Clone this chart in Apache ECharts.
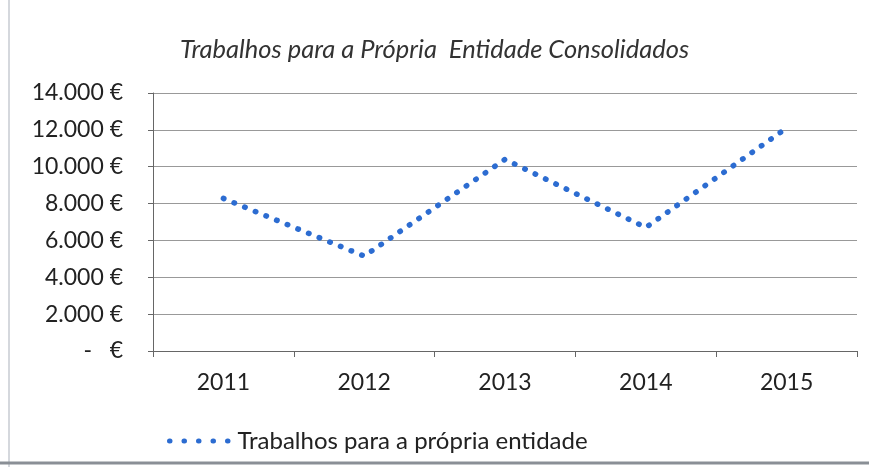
<!DOCTYPE html>
<html><head><meta charset="utf-8">
<script src="https://cdn.jsdelivr.net/npm/echarts@6/dist/echarts.min.js"></script>
<style>html,body{margin:0;padding:0;background:#fff}#c{width:869px;height:467px}</style>
</head><body><div id="c"></div>
<script>
const titleText = 'Trabalhos para a Própria  Entidade Consolidados';
const seriesName = 'Trabalhos para a própria entidade';
const years = ['2011', '2012', '2013', '2014', '2015'];
const values = [8280, 5150, 10400, 6700, 12100];

const chart = echarts.init(document.getElementById('c'));
const font = "Lato, 'Open Sans', sans-serif";
chart.setOption({
  backgroundColor: '#fff',
  animation: false,
  title: {
    text: titleText, left: 'center', top: 32,
    textStyle: { fontFamily: font, fontStyle: 'italic', fontWeight: 'normal', fontSize: 25.5, color: '#333' }
  },
  legend: {
    data: [{ name: seriesName }],
    left: 162, top: 424, itemWidth: 60, itemHeight: 14, itemGap: 6,
    itemStyle: { opacity: 0 },
    lineStyle: { width: 5, type: [0.5, 14], cap: 'round' },
    textStyle: { fontFamily: font, fontSize: 24, color: '#222', padding: [0, 0, 0, 3] }
  },
  grid: { left: 153, right: 12, top: 93, bottom: 116, containLabel: false },
  xAxis: {
    type: 'category', data: years, boundaryGap: true,
    axisLine: { lineStyle: { color: '#666', width: 1 } },
    axisTick: { show: true, length: 6, lineStyle: { color: '#666' } },
    axisLabel: { fontFamily: font, fontSize: 23, color: '#222', margin: 20 }
  },
  yAxis: {
    type: 'value', min: 0, max: 14000, interval: 2000,
    axisLine: { show: true, lineStyle: { color: '#666' } },
    axisTick: { show: true, length: 5, lineStyle: { color: '#666' } },
    splitLine: { lineStyle: { color: '#999', width: 1 } },
    axisLabel: {
      fontFamily: font, fontSize: 23, color: '#222', margin: 30,
      formatter: v => v === 0 ? '-   €' : (v / 1000).toFixed(0) + '.000 €'
    }
  },
  series: [{
    name: seriesName, type: 'line', data: values,
    symbol: 'none', showSymbol: false,
    itemStyle: { color: '#2c6cd1' },
    lineStyle: { color: '#2c6cd1', width: 5.5, type: [0.5, 11], cap: 'round' }
  }],
  graphic: [
    { type: 'line', shape: { x1: 9, y1: 0, x2: 9, y2: 467 }, style: { stroke: '#d5d8dd', lineWidth: 2 } },
    { type: 'line', shape: { x1: 0, y1: 463, x2: 869, y2: 463 }, style: { stroke: '#8a8f96', lineWidth: 3 } }
  ]
});
</script></body></html>
